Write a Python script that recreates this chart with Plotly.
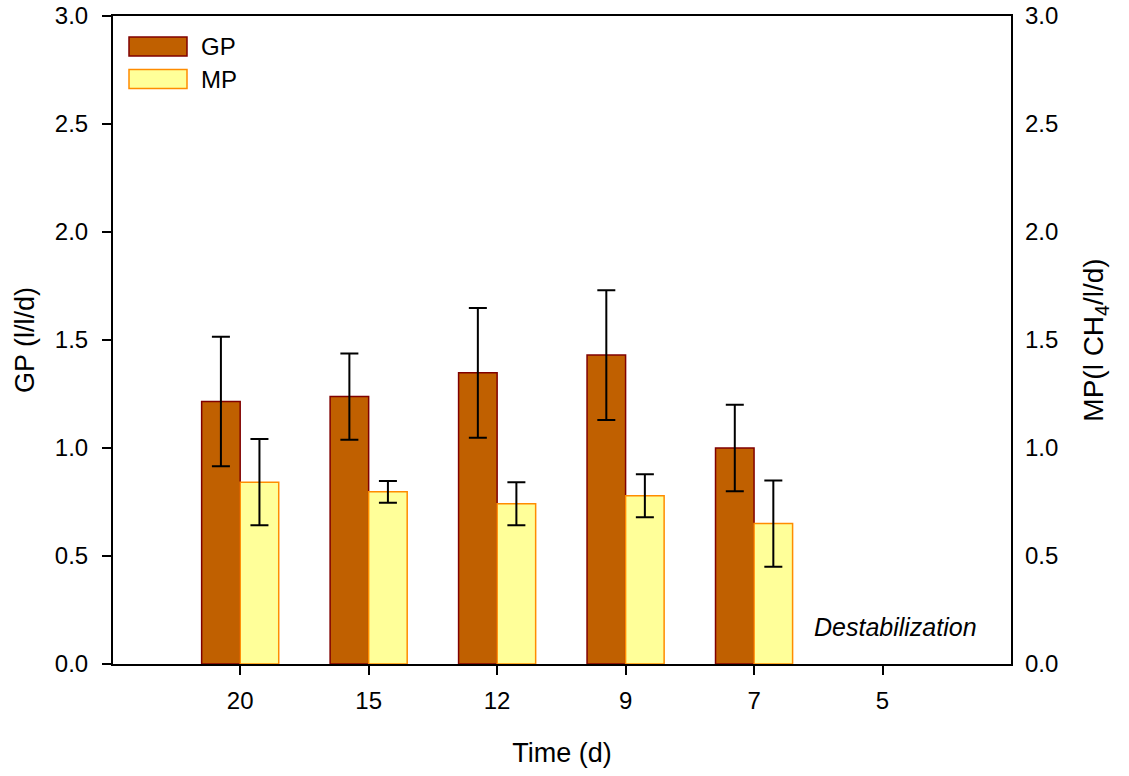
import plotly.graph_objects as go

categories = ["20", "15", "12", "9", "7", "5"]
gp_values = [1.215, 1.238, 1.348, 1.430, 1.000]
gp_errors = [0.30, 0.20, 0.30, 0.30, 0.20]
mp_values = [0.842, 0.797, 0.742, 0.779, 0.650]
mp_errors = [0.20, 0.05, 0.10, 0.10, 0.20]
note_text = "Destabilization"

xpos = list(range(len(gp_values)))
FAM = "Liberation Sans"


def f(size):
    return dict(family=FAM, size=size, color="black")


fig = go.Figure()
fig.add_trace(go.Bar(
    x=xpos, y=gp_values, width=0.3, offset=-0.3, name="GP",
    marker=dict(color="#C06000", line=dict(color="#800000", width=1.5)),
    error_y=dict(type="data", array=gp_errors, color="black", thickness=2, width=9),
    showlegend=False,
))
fig.add_trace(go.Bar(
    x=xpos, y=mp_values, width=0.3, offset=0.0, name="MP",
    marker=dict(color="#FFFF99", line=dict(color="#FF8C00", width=1.5)),
    error_y=dict(type="data", array=mp_errors, color="black", thickness=2, width=9),
    showlegend=False,
))
fig.add_trace(go.Scatter(x=[0], y=[0], yaxis="y2", mode="markers",
                         marker=dict(opacity=0), showlegend=False, hoverinfo="skip"))

yticks = [0, 0.5, 1.0, 1.5, 2.0, 2.5, 3.0]
fig.update_layout(
    width=1129, height=776,
    margin=dict(l=113, r=118, t=16, b=112),
    paper_bgcolor="white", plot_bgcolor="white",
    barmode="overlay",
    font=f(24),
    xaxis=dict(
        range=[-0.99, 6.0], tickmode="array", tickvals=list(range(len(categories))),
        ticktext=categories, ticks="outside", ticklen=9, tickwidth=2, tickcolor="black",
        tickfont=f(24), ticklabelstandoff=5, automargin=False,
        showline=True, linecolor="black", linewidth=2, mirror=True, showgrid=False,
        zeroline=False, title=dict(text="Time (d)", font=f(27), standoff=30),
    ),
    yaxis=dict(
        range=[0, 3.0], tickmode="array", tickvals=yticks,
        tickformat=".1f", ticks="outside", ticklen=9, tickwidth=2, tickcolor="black",
        tickfont=f(24), ticklabelstandoff=9, automargin=False,
        showline=True, linecolor="black", linewidth=2, mirror=True, showgrid=False,
        zeroline=False, title=dict(text="GP (l/l/d)", font=f(27), standoff=12),
    ),
    yaxis2=dict(
        overlaying="y", side="right", range=[0, 3.0],
        tickmode="array", tickvals=yticks, tickformat=".1f",
        ticks="", tickfont=f(24), ticklabelstandoff=13, automargin=False,
        showline=False, showgrid=False, zeroline=False,
        title=dict(text="MP(l CH<sub>4</sub>/l/d)", font=f(28), standoff=26),
    ),
    showlegend=False,
)

legend_items = [("GP", "#C06000", "#800000"), ("MP", "#FFFF99", "#FF8C00")]
for i, (name, fill, edge) in enumerate(legend_items):
    y_top = 1 - (21 + 32.5 * i) / 648
    y_bot = 1 - (40 + 32.5 * i) / 648
    fig.add_shape(type="rect", xref="paper", yref="paper",
                  x0=16 / 898, x1=74 / 898, y0=y_bot, y1=y_top,
                  fillcolor=fill, line=dict(color=edge, width=1.5))
    fig.add_annotation(xref="paper", yref="paper", x=86 / 898, y=(y_top + y_bot) / 2,
                       text=name, showarrow=False, xanchor="left", yanchor="middle",
                       font=f(24))

fig.add_annotation(x=5, y=0.17, xref="x", yref="y", text="<i>" + note_text + "</i>",
                   showarrow=False, xshift=13, font=f(25))

fig.write_html("out.html")
